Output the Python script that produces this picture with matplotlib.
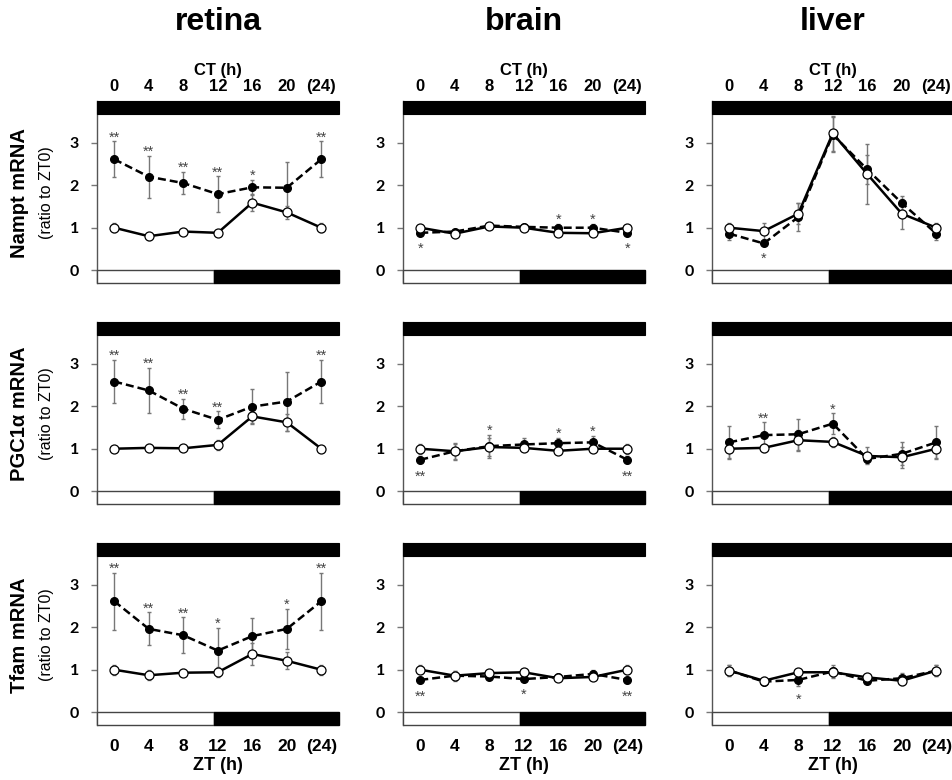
import matplotlib
matplotlib.use("Agg")
import matplotlib.pyplot as plt
from matplotlib.patches import Rectangle

zt = [0, 4, 8, 12, 16, 20, 24]
time_labels = ["0", "4", "8", "12", "16", "20", "(24)"]
tissues = ["retina", "brain", "liver"]
genes = ["Nampt", "PGC1\u03b1", "Tfam"]

# Nampt mRNA (ratio to ZT0); open = solid line, filled = dashed line
nampt_retina_open = [1.00, 0.80, 0.91, 0.88, 1.59, 1.36, 1.00]
nampt_retina_open_err = [0.10, 0.08, 0.05, 0.04, 0.20, 0.15, 0.10]
nampt_retina_filled = [2.61, 2.20, 2.05, 1.79, 1.95, 1.94, 2.61]
nampt_retina_filled_err = [0.42, 0.49, 0.26, 0.42, 0.18, 0.60, 0.42]
nampt_retina_stars = ["**", "**", "**", "**", "*", "", "**"]

nampt_brain_open = [1.00, 0.86, 1.03, 1.00, 0.88, 0.87, 1.00]
nampt_brain_open_err = [0.07, 0.05, 0.05, 0.04, 0.05, 0.05, 0.07]
nampt_brain_filled = [0.88, 0.91, 1.05, 1.02, 1.00, 1.00, 0.88]
nampt_brain_filled_err = [0.05, 0.06, 0.05, 0.04, 0.09, 0.09, 0.05]
nampt_brain_stars = ["*", "", "", "", "*", "*", "*"]

nampt_liver_open = [1.00, 0.92, 1.33, 3.22, 2.26, 1.33, 1.00]
nampt_liver_open_err = [0.10, 0.18, 0.25, 0.41, 0.70, 0.35, 0.10]
nampt_liver_filled = [0.86, 0.63, 1.25, 3.19, 2.37, 1.58, 0.86]
nampt_liver_filled_err = [0.15, 0.04, 0.32, 0.42, 0.35, 0.16, 0.15]
nampt_liver_stars = ["", "*", "", "", "", "", ""]

# PGC1a mRNA
pgc_retina_open = [1.00, 1.02, 1.01, 1.09, 1.76, 1.62, 1.00]
pgc_retina_open_err = [0.07, 0.10, 0.04, 0.12, 0.15, 0.20, 0.07]
pgc_retina_filled = [2.58, 2.37, 1.94, 1.68, 1.99, 2.11, 2.58]
pgc_retina_filled_err = [0.51, 0.53, 0.24, 0.20, 0.41, 0.70, 0.51]
pgc_retina_stars = ["**", "**", "**", "**", "", "", "**"]

pgc_brain_open = [1.00, 0.94, 1.04, 1.02, 0.95, 1.00, 1.00]
pgc_brain_open_err = [0.12, 0.17, 0.22, 0.06, 0.08, 0.05, 0.12]
pgc_brain_filled = [0.74, 0.94, 1.06, 1.10, 1.13, 1.15, 0.74]
pgc_brain_filled_err = [0.08, 0.20, 0.27, 0.15, 0.12, 0.16, 0.08]
pgc_brain_stars = ["**", "", "*", "", "*", "*", "**"]

pgc_liver_open = [1.00, 1.02, 1.20, 1.16, 0.83, 0.80, 1.00]
pgc_liver_open_err = [0.22, 0.10, 0.25, 0.12, 0.20, 0.25, 0.22]
pgc_liver_filled = [1.15, 1.32, 1.34, 1.59, 0.76, 0.88, 1.15]
pgc_liver_filled_err = [0.39, 0.30, 0.36, 0.24, 0.10, 0.27, 0.39]
pgc_liver_stars = ["", "**", "", "*", "", "", ""]

# Tfam mRNA
tfam_retina_open = [1.00, 0.87, 0.93, 0.94, 1.37, 1.21, 1.00]
tfam_retina_open_err = [0.12, 0.12, 0.08, 0.12, 0.25, 0.20, 0.12]
tfam_retina_filled = [2.61, 1.96, 1.81, 1.45, 1.79, 1.96, 2.61]
tfam_retina_filled_err = [0.67, 0.39, 0.42, 0.53, 0.42, 0.47, 0.67]
tfam_retina_stars = ["**", "**", "**", "*", "", "*", "**"]

tfam_brain_open = [1.00, 0.86, 0.92, 0.94, 0.80, 0.83, 1.00]
tfam_brain_open_err = [0.10, 0.10, 0.06, 0.05, 0.06, 0.05, 0.10]
tfam_brain_filled = [0.76, 0.86, 0.84, 0.78, 0.83, 0.90, 0.76]
tfam_brain_filled_err = [0.07, 0.12, 0.05, 0.05, 0.05, 0.10, 0.07]
tfam_brain_stars = ["**", "", "", "*", "", "", "**"]

tfam_liver_open = [0.98, 0.74, 0.94, 0.94, 0.82, 0.74, 0.98]
tfam_liver_open_err = [0.12, 0.08, 0.08, 0.10, 0.06, 0.10, 0.12]
tfam_liver_filled = [0.98, 0.72, 0.76, 0.96, 0.74, 0.80, 0.98]
tfam_liver_filled_err = [0.12, 0.06, 0.15, 0.15, 0.05, 0.12, 0.12]
tfam_liver_stars = ["", "", "*", "", "", "", ""]

panels = [
    [(nampt_retina_open, nampt_retina_open_err, nampt_retina_filled, nampt_retina_filled_err, nampt_retina_stars),
     (nampt_brain_open, nampt_brain_open_err, nampt_brain_filled, nampt_brain_filled_err, nampt_brain_stars),
     (nampt_liver_open, nampt_liver_open_err, nampt_liver_filled, nampt_liver_filled_err, nampt_liver_stars)],
    [(pgc_retina_open, pgc_retina_open_err, pgc_retina_filled, pgc_retina_filled_err, pgc_retina_stars),
     (pgc_brain_open, pgc_brain_open_err, pgc_brain_filled, pgc_brain_filled_err, pgc_brain_stars),
     (pgc_liver_open, pgc_liver_open_err, pgc_liver_filled, pgc_liver_filled_err, pgc_liver_stars)],
    [(tfam_retina_open, tfam_retina_open_err, tfam_retina_filled, tfam_retina_filled_err, tfam_retina_stars),
     (tfam_brain_open, tfam_brain_open_err, tfam_brain_filled, tfam_brain_filled_err, tfam_brain_stars),
     (tfam_liver_open, tfam_liver_open_err, tfam_liver_filled, tfam_liver_filled_err, tfam_liver_stars)],
]

plt.rcParams["font.family"] = ["Liberation Sans", "DejaVu Sans"]

W, H = 952, 780
fig = plt.figure(figsize=(W / 100, H / 100), dpi=100)

XMIN, XMAX = -2.0, 26.05
YMIN, YMAX = -0.30, 3.98
LIGHTS_OFF = 11.6

col_left = [97, 403, 712]
row_top = [101, 322, 543]
ax_w, ax_h = 242, 182


def draw_panel(ax, open_v, open_e, fill_v, fill_e, stars):
    ax.errorbar(zt, fill_v, yerr=fill_e, fmt="none", ecolor="#777777",
                elinewidth=1, capsize=1.5, capthick=1, zorder=2)
    ax.errorbar(zt, open_v, yerr=open_e, fmt="none", ecolor="#777777",
                elinewidth=1, capsize=1.5, capthick=1, zorder=2)
    ax.plot(zt, fill_v, color="black", ls=(0, (3.2, 1.6)), lw=1.8,
            marker="o", ms=5.5, mfc="black", mec="black", zorder=3)
    ax.plot(zt, open_v, color="black", ls="-", lw=1.8,
            marker="o", ms=6.5, mfc="white", mec="black", mew=0.9, zorder=4)

    for x, f, fe, o, s in zip(zt, fill_v, fill_e, open_v, stars):
        if not s:
            continue
        if f >= o:
            y = f + fe + 0.09
        else:
            y = f - fe - 0.32
        ax.text(x, y, s, ha="center", va="center", fontsize=10.5,
                color="#444444", zorder=5)

    # light / dark bars
    ax.add_patch(Rectangle((XMIN, 3.68), XMAX - XMIN, YMAX - 3.68,
                           fc="black", ec="black", lw=0.8, clip_on=False, zorder=6))
    ax.add_patch(Rectangle((XMIN, YMIN), LIGHTS_OFF - XMIN, -YMIN,
                           fc="white", ec="#444444", lw=1, clip_on=False, zorder=6))
    ax.add_patch(Rectangle((LIGHTS_OFF, YMIN), XMAX - LIGHTS_OFF, -YMIN,
                           fc="black", ec="black", lw=1, clip_on=False, zorder=6))

    ax.set_xlim(XMIN, XMAX)
    ax.set_ylim(YMIN, YMAX)
    for side in ["top", "right", "bottom"]:
        ax.spines[side].set_visible(False)
    ax.spines["left"].set_color("#555555")
    ax.spines["left"].set_linewidth(1)
    ax.set_yticks([0, 1, 2, 3])
    ax.set_yticklabels(["0", "1", "2", "3"], fontsize=11.5, fontweight="bold",
                       family=["Lato", "DejaVu Sans"])
    ax.tick_params(axis="y", length=4, width=1, color="#777777", pad=9)
    ax.set_xticks(zt)


for r in range(3):
    for c in range(3):
        left = col_left[c] / W
        bottom = 1 - (row_top[r] + ax_h) / H
        ax = fig.add_axes([left, bottom, ax_w / W, ax_h / H])
        draw_panel(ax, *panels[r][c])

        if r == 0:
            ax.xaxis.tick_top()
            ax.set_xticklabels(time_labels, fontsize=12, fontweight="bold")
            ax.tick_params(axis="x", length=0, pad=5)
            ax.xaxis.set_label_position("top")
            ax.set_xlabel("CT (h)", fontsize=12, fontweight="bold", labelpad=3)
            fig.text(left + ax_w / 2 / W, 1 - 22 / H, tissues[c],
                     ha="center", va="center", fontsize=23, fontweight="bold")
        elif r == 2:
            ax.set_xticklabels(time_labels, fontsize=12.5, fontweight="bold")
            ax.tick_params(axis="x", length=0, pad=10)
            ax.set_xlabel("ZT (h)", fontsize=13, fontweight="bold", labelpad=2.5)
        else:
            ax.tick_params(axis="x", length=0, labelbottom=False)

    yc = 1 - (row_top[r] + 92) / H
    fig.text(20 / W, yc, genes[r] + " mRNA", rotation=90, ha="center", va="center",
             fontsize=14.5, fontweight="bold")
    fig.text(47 / W, yc, "(ratio to ZT0)", rotation=90, ha="center", va="center",
             fontsize=11.5)

fig.savefig("out.png", dpi=100)
